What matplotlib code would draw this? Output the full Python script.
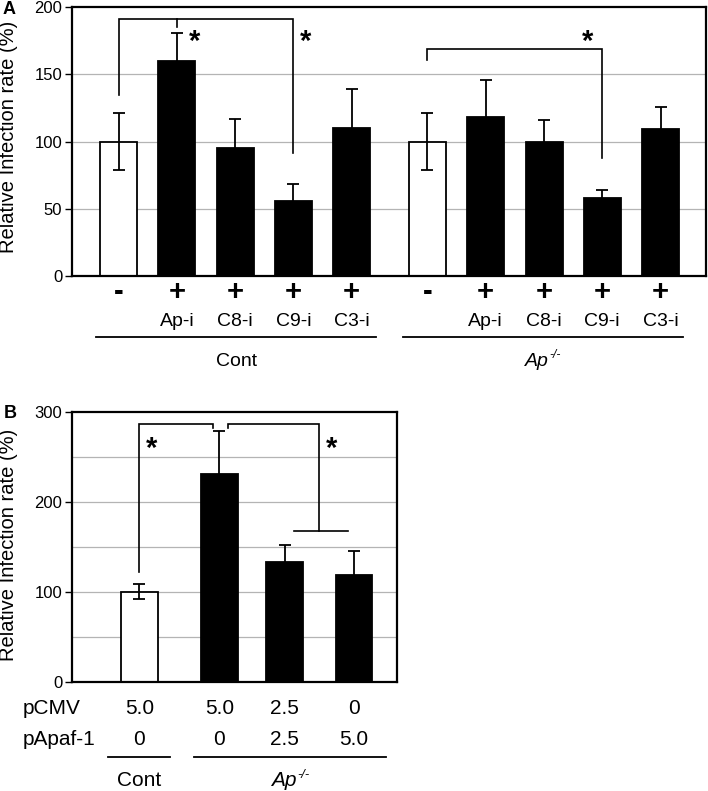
import matplotlib
matplotlib.use('Agg')
import matplotlib.pyplot as plt
from matplotlib.transforms import blended_transform_factory as btf

plt.rcParams['font.family'] = ['Liberation Sans', 'DejaVu Sans']

W, H = 708, 791

# ---------------- Panel A data ----------------
a_x = [0, 1, 2, 3, 4, 5.3, 6.3, 7.3, 8.3, 9.3]
a_sign = ['-', '+', '+', '+', '+', '-', '+', '+', '+', '+']
a_inhib = ['', 'Ap-i', 'C8-i', 'C9-i', 'C3-i', '', 'Ap-i', 'C8-i', 'C9-i', 'C3-i']
a_vals = [100, 160, 95, 55.5, 110, 100, 118, 100, 58, 109]
a_err = [21.5, 21, 21.5, 13, 29, 21.5, 28, 16, 6, 16.5]
a_colors = ['white', 'black', 'black', 'black', 'black',
            'white', 'black', 'black', 'black', 'black']
a_groups = [('Cont', ''), ('Ap', '-/-')]
a_group_span = [(-0.38, 4.42), (4.88, 9.68)]

# ---------------- Panel B data ----------------
b_x = [0, 1.2, 2.18, 3.22]
b_pcmv = ['5.0', '5.0', '2.5', '0']
b_papaf = ['0', '0', '2.5', '5.0']
b_vals = [100, 231, 133, 118]
b_err = [8.5, 47, 19, 27]
b_colors = ['white', 'black', 'black', 'black']
b_groups = [('Cont', ''), ('Ap', '-/-')]
b_group_span = [(-0.47, 0.46), (0.82, 3.70)]

fig = plt.figure(figsize=(W / 100, H / 100), dpi=100)
renderer = fig.canvas.get_renderer()


def fy(y):
    return 1 - y / H


def style_axes(ax):
    for s in ax.spines.values():
        s.set_linewidth(1.6)
    ax.set_xticks([])
    ax.tick_params(axis='y', length=5, width=1, pad=2, labelsize=12)


def bracket(ax, x1, x2, top, y1, y2):
    ax.plot([x1, x1, x2, x2], [y1, top, top, y2], color='black', lw=1.2,
            solid_joinstyle='miter', zorder=4)


def group_label(tr, xc, ybase_px, main, sup, size):
    """Draw a group label; if sup is given, main is italic with italic superscript."""
    if not sup:
        fig.text(xc, fy(ybase_px), main, transform=tr, fontsize=size,
                 ha='center', va='baseline')
        return
    t1 = fig.text(xc, fy(ybase_px), main, transform=tr, fontsize=size,
                  style='italic', ha='left', va='baseline')
    t2 = fig.text(xc, fy(ybase_px - size * 0.55), sup, transform=tr,
                  fontsize=size * 0.62, style='italic', ha='left',
                  va='baseline')
    w1 = t1.get_window_extent(renderer).width
    w2 = t2.get_window_extent(renderer).width
    x0_disp = tr.transform((xc, 0))[0] - (w1 + w2) / 2
    x0_fig = x0_disp / (W)
    t1.set_transform(fig.transFigure)
    t2.set_transform(fig.transFigure)
    t1.set_position((x0_fig, fy(ybase_px)))
    t2.set_position((x0_fig + (w1 + 0.5) / W, fy(ybase_px - size * 0.55)))


# ================= Panel A =================
axA = fig.add_axes([72 / W, fy(276), 634 / W, 269 / H])
style_axes(axA)
axA.set_xlim(-0.80, 10.08)
axA.set_ylim(0, 200)
axA.set_yticks([0, 50, 100, 150, 200])
for g in [50, 100, 150]:
    axA.axhline(g, color='#b4b4b4', lw=0.9, zorder=0)
axA.bar(a_x, a_vals, width=0.635, color=a_colors, edgecolor='black',
        linewidth=1.3, zorder=2)
axA.errorbar(a_x, a_vals, yerr=a_err, fmt='none', ecolor='black',
             elinewidth=1.3, capsize=4.3, capthick=1.3, zorder=3)

# brackets A
bracket(axA, a_x[0], a_x[3], 191, 134.6, 91.4)
axA.plot([a_x[1], a_x[1]], [191, 185], color='black', lw=1.2, zorder=4)
bracket(axA, a_x[5], a_x[8], 169, 160.6, 87.7)
for sx in [1.31, 3.2, 8.05]:
    axA.text(sx, 174, '*', fontsize=21, fontweight='bold', ha='center',
             va='center')

trA = btf(axA.transData, fig.transFigure)
for x, s, lab in zip(a_x, a_sign, a_inhib):
    fig.text(x, fy(292), s, transform=trA, fontsize=21, fontweight='bold',
             ha='center', va='center')
    if lab:
        fig.text(x, fy(326.5), lab, transform=trA, fontsize=14,
                 ha='center', va='baseline')
for (x1, x2), (g, sup) in zip(a_group_span, a_groups):
    fig.add_artist(plt.Line2D([x1, x2], [fy(337.3), fy(337.3)],
                              transform=trA, color='black', lw=1.3))
    group_label(trA, (x1 + x2) / 2, 366, g, sup, 14)

fig.text(9 / W, fy(137), 'Relative Infection rate (%)', rotation=90,
         fontsize=14.5, ha='center', va='center')
fig.text(3 / W, fy(13.5), 'A', fontsize=13, fontweight='bold',
         ha='left', va='baseline')

# ================= Panel B =================
axB = fig.add_axes([72 / W, fy(681.5), 324.7 / W, 269.8 / H])
style_axes(axB)
axB.set_xlim(-1.01, 3.86)
axB.set_ylim(0, 300)
axB.set_yticks([0, 100, 200, 300])
for g in [50, 100, 150, 200, 250]:
    axB.axhline(g, color='#b4b4b4', lw=0.9, zorder=0)
axB.bar(b_x, b_vals, width=0.55, color=b_colors, edgecolor='black',
        linewidth=1.3, zorder=2)
axB.errorbar(b_x, b_vals, yerr=b_err, fmt='none', ecolor='black',
             elinewidth=1.3, capsize=4.3, capthick=1.3, zorder=3)

# brackets B
bracket(axB, b_x[0], b_x[1] - 0.1, 286.7, 121.8, 282)
bracket(axB, b_x[1] + 0.13, (b_x[2] + b_x[3]) / 2, 286.7, 282, 167.7)
axB.plot([2.32, 3.13], [167.7, 167.7], color='black', lw=1.2, zorder=4)
for sx in [0.18, 2.89]:
    axB.text(sx, 259, '*', fontsize=21, fontweight='bold', ha='center',
             va='center')

trB = btf(axB.transData, fig.transFigure)
fig.text(22.7 / W, fy(714), 'pCMV', fontsize=15, ha='left', va='baseline')
fig.text(22.7 / W, fy(745), 'pApaf-1', fontsize=15, ha='left', va='baseline')
for x, p1, p2 in zip(b_x, b_pcmv, b_papaf):
    fig.text(x, fy(714), p1, transform=trB, fontsize=15, ha='center',
             va='baseline')
    fig.text(x, fy(745), p2, transform=trB, fontsize=15, ha='center',
             va='baseline')
for (x1, x2), (g, sup) in zip(b_group_span, b_groups):
    fig.add_artist(plt.Line2D([x1, x2], [fy(756.7), fy(756.7)],
                              transform=trB, color='black', lw=1.3))
    group_label(trB, (x1 + x2) / 2, 786, g, sup, 15)

fig.text(9 / W, fy(545), 'Relative Infection rate (%)', rotation=90,
         fontsize=14.5, ha='center', va='center')
fig.text(4 / W, fy(418), 'B', fontsize=13, fontweight='bold',
         ha='left', va='baseline')

fig.savefig('out.png', dpi=100)
